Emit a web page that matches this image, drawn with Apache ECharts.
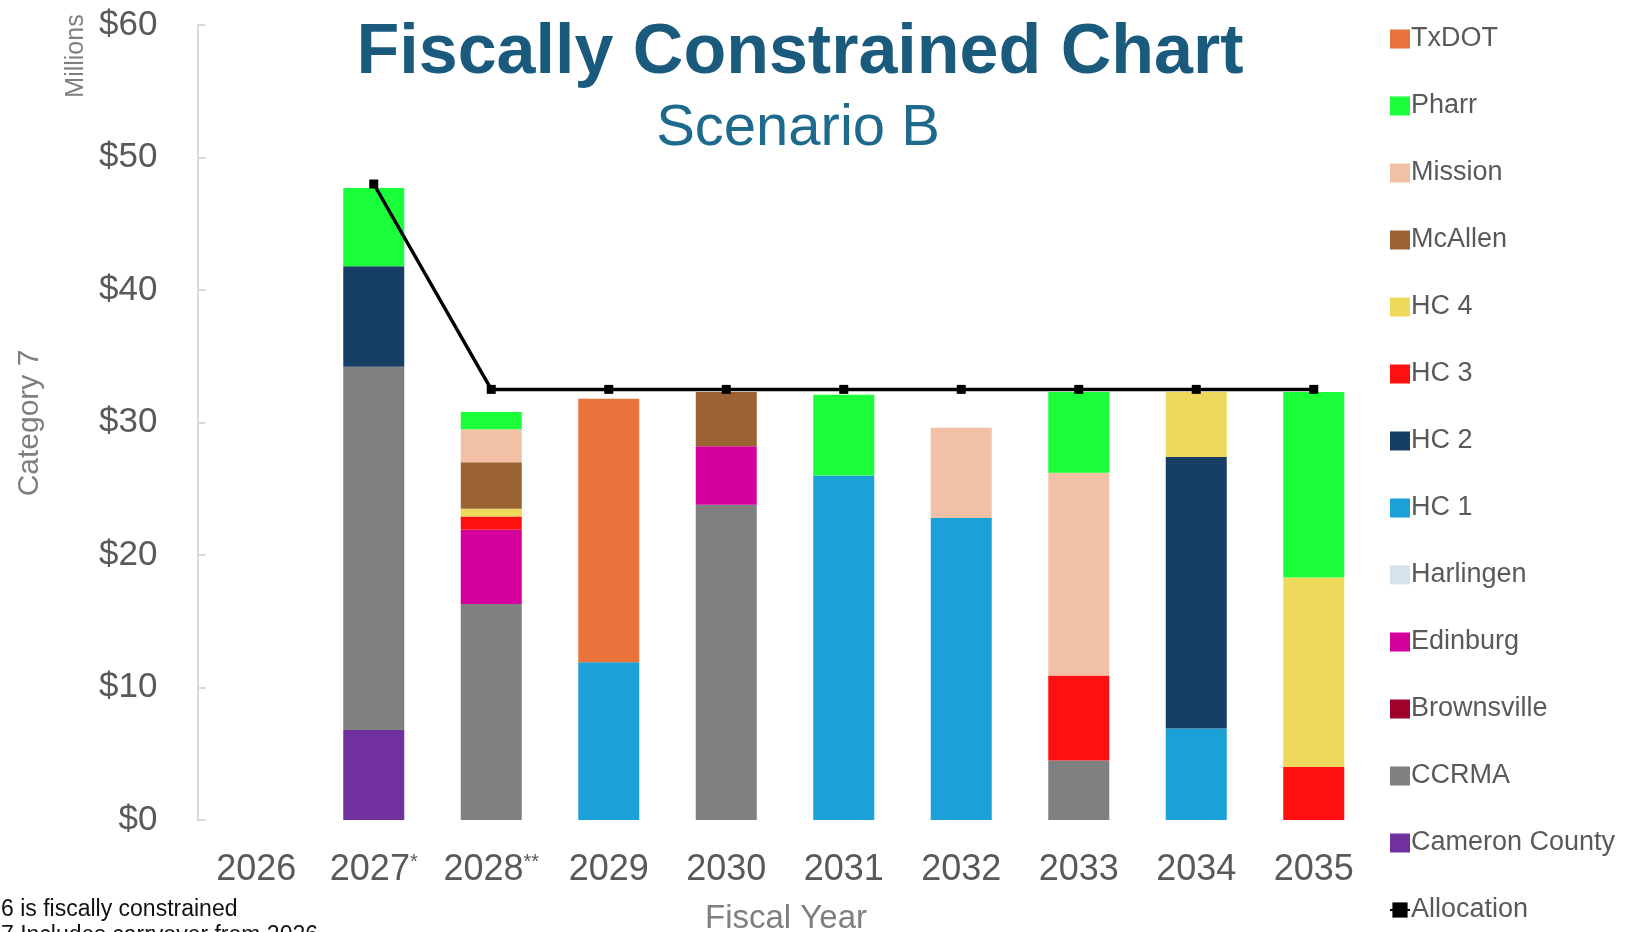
<!DOCTYPE html>
<html>
<head>
<meta charset="utf-8">
<script src="https://cdn.jsdelivr.net/npm/echarts@6/dist/echarts.min.js"></script>
<style>
html,body{margin:0;padding:0;background:#fff;}
#c{width:1640px;height:932px;}
</style>
</head>
<body>
<div id="c"></div>
<script>
// ---- data ----
const years = ['2026','2027','2028','2029','2030','2031','2032','2033','2034','2035'];
const yearMarks = {'2027':'*','2028':'**'};
const yTicks = [0,10,20,30,40,50,60];

const cameronCounty = [0, 6.8, 0, 0, 0, 0, 0, 0, 0, 0];
const ccrma         = [0, 27.4, 16.3, 0, 23.8, 0, 0, 4.5, 0, 0];
const brownsville   = [0, 0, 0, 0, 0, 0, 0, 0, 0, 0];
const edinburg      = [0, 0, 5.6, 0, 4.4, 0, 0, 0, 0, 0];
const harlingen     = [0, 0, 0, 0, 0, 0, 0, 0, 0, 0];
const hc1           = [0, 0, 0, 11.9, 0, 26.0, 22.8, 0, 6.9, 0];
const hc2           = [0, 7.6, 0, 0, 0, 0, 0, 0, 20.5, 0];
const hc3           = [0, 0, 1.0, 0, 0, 0, 0, 6.4, 0, 4.0];
const hc4           = [0, 0, 0.6, 0, 0, 0, 0, 0, 4.9, 14.3];
const mcAllen       = [0, 0, 3.5, 0, 4.1, 0, 0, 0, 0, 0];
const mission       = [0, 0, 2.5, 0, 0, 0, 6.8, 15.3, 0, 0];
const pharr         = [0, 5.9, 1.3, 0, 0, 6.1, 0, 6.1, 0, 14.0];
const txdot         = [0, 0, 0, 19.9, 0, 0, 0, 0, 0, 0];
const allocation    = [null, 48, 32.5, 32.5, 32.5, 32.5, 32.5, 32.5, 32.5, 32.5];

// stacking order bottom -> top
const barSeries = [
  ['Cameron County', cameronCounty, '#7030A0'],
  ['CCRMA', ccrma, '#808080'],
  ['Brownsville', brownsville, '#A0002A'],
  ['Edinburg', edinburg, '#D4009E'],
  ['Harlingen', harlingen, '#D5E3EE'],
  ['HC 1', hc1, '#1BA0D8'],
  ['HC 2', hc2, '#173F66'],
  ['HC 3', hc3, '#FF1010'],
  ['HC 4', hc4, '#EFD95C'],
  ['McAllen', mcAllen, '#9C6332'],
  ['Mission', mission, '#F2C0A4'],
  ['Pharr', pharr, '#1AFF3A'],
  ['TxDOT', txdot, '#E9733A']
];
const legendOrder = ['TxDOT','Pharr','Mission','McAllen','HC 4','HC 3','HC 2','HC 1','Harlingen','Edinburg','Brownsville','CCRMA','Cameron County','Allocation'];

const chart = echarts.init(document.getElementById('c'), null, {renderer:'canvas'});
const FONT = '"Liberation Sans", Arial, sans-serif';

const series = barSeries.map(([name, data, color]) => ({
  name, type:'bar', stack:'total', data, barWidth:61,
  itemStyle:{color}, emphasis:{disabled:true}
}));
series.push({
  name:'Allocation', type:'line', data: allocation,
  symbol:'rect', symbolSize:9, showSymbol:true,
  lineStyle:{color:'#000', width:3.5}, itemStyle:{color:'#000'},
  z:10, emphasis:{disabled:true}
});

const legendData = legendOrder.map(n => n === 'Allocation' ? {name:n} : {name:n, icon:'rect'});

chart.setOption({
  animation:false,
  backgroundColor:'#fff',
  textStyle:{fontFamily:FONT},
  grid:{left:197.5, right:267.5, top:25, bottom:112, containLabel:false},
  legend:{
    orient:'vertical', left:1389, top:24, padding:0,
    data: legendData,
    itemWidth:20, itemHeight:19, itemGap:37,
    textStyle:{fontSize:27, color:'#595959', lineHeight:30, padding:[0,0,0,-4]},
    selectedMode:false
  },
  xAxis:{
    type:'category', data: years,
    axisLine:{show:false}, axisTick:{show:false},
    axisLabel:{
      interval:0, hideOverlap:false,
      margin:32, color:'#595959', fontSize:36,
      formatter: v => yearMarks[v] ? '{a|' + v + '}{s|' + yearMarks[v] + '}' : '{a|' + v + '}',
      rich:{
        a:{fontSize:36, color:'#595959', fontFamily:FONT},
        s:{fontSize:20, color:'#595959', verticalAlign:'top', fontFamily:FONT}
      }
    }
  },
  yAxis:{
    type:'value', min:yTicks[0], max:yTicks[yTicks.length-1], interval:10,
    splitLine:{show:false},
    axisLine:{show:true, lineStyle:{color:'#D9D9D9', width:2}},
    axisTick:{show:true, inside:true, length:8, lineStyle:{color:'#D9D9D9', width:2}},
    axisLabel:{margin:40, color:'#595959', fontSize:35, formatter: v => '$' + v}
  },
  graphic:[
    {type:'text', x:800, y:54, style:{text:'Fiscally Constrained Chart', font:'bold 70px ' + FONT, fill:'#1A5A7C', textAlign:'center', textVerticalAlign:'middle'}},
    {type:'text', x:798, y:129, style:{text:'Scenario B', font:'58px ' + FONT, fill:'#1D6A8C', textAlign:'center', textVerticalAlign:'middle'}},
    {type:'text', x:76, y:56, rotation:Math.PI/2, style:{text:'Millions', font:'25px ' + FONT, fill:'#7F7F7F', textAlign:'center', textVerticalAlign:'middle'}},
    {type:'text', x:30, y:423, rotation:Math.PI/2, style:{text:'Category 7', font:'30px ' + FONT, fill:'#7F7F7F', textAlign:'center', textVerticalAlign:'middle'}},
    {type:'text', x:786, y:919, style:{text:'Fiscal Year', font:'33px ' + FONT, fill:'#7F7F7F', textAlign:'center', textVerticalAlign:'middle'}},
    {type:'text', x:1, y:910, style:{text:'6 is fiscally constrained', font:'23px ' + FONT, fill:'#111', textAlign:'left', textVerticalAlign:'middle'}},
    {type:'text', x:1, y:936, style:{text:'7 Includes carryover from 2026', font:'23px ' + FONT, fill:'#111', textAlign:'left', textVerticalAlign:'middle'}}
  ],
  series
});
</script>
</body>
</html>
